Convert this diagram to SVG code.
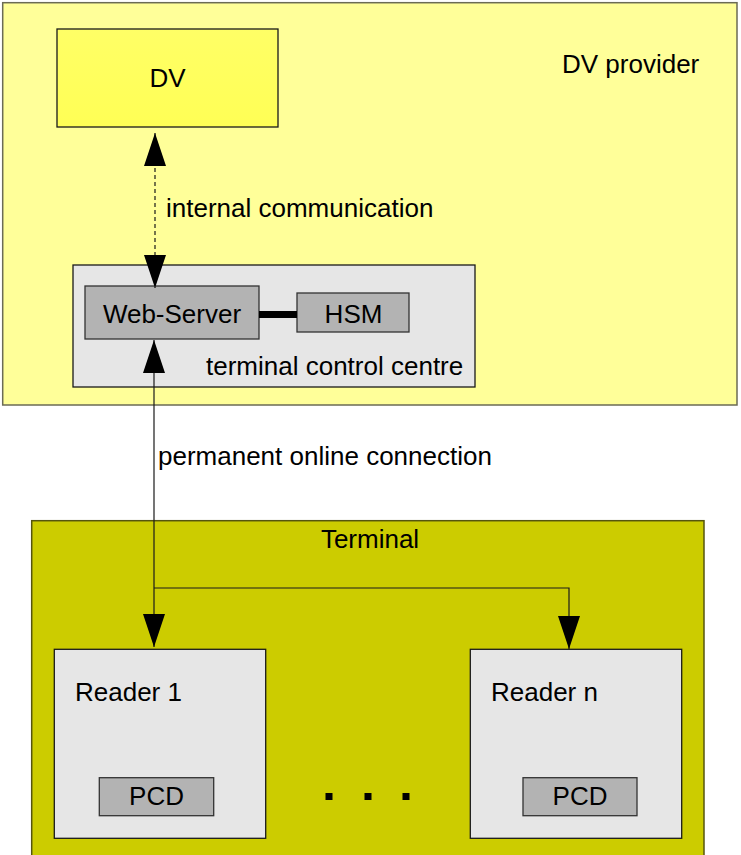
<svg xmlns="http://www.w3.org/2000/svg" width="741" height="855" viewBox="0 0 741 855">
  <style>
    text { font-family: "Liberation Sans", Arial, sans-serif; font-size: 26px; fill: #000; }
    .box { stroke: #1a1a1a; stroke-width: 1.3; }
    .light { fill: #e6e6e6; }
    .dark { fill: #b3b3b3; stroke: #333; stroke-width: 1.3; }
    .wire { fill: none; stroke: #1a1a1a; stroke-width: 1.2; }
  </style>
  <defs>
    <marker id="arrow" markerUnits="userSpaceOnUse" markerWidth="34" markerHeight="24" refX="33" refY="11" orient="auto-start-reverse" viewBox="0 0 34 24">
      <path d="M0,0 L33,11 L0,22 z" fill="#000"/>
    </marker>
    <linearGradient id="dvfill" x1="0" y1="0" x2="0" y2="1">
      <stop offset="0" stop-color="#ffff66"/>
      <stop offset="1" stop-color="#ffff55"/>
    </linearGradient>
  </defs>

  <rect width="741" height="855" fill="#ffffff"/>

  <g id="dv-provider">
    <rect x="2.7" y="2.7" width="734.3" height="402.3" fill="#ffff99" stroke="#6b6b55" stroke-width="1.5"/>
    <text x="562" y="73">DV provider</text>
  </g>

  <g id="dv">
    <rect class="box" x="57" y="29" width="221" height="98" fill="url(#dvfill)"/>
    <text x="167.5" y="87" text-anchor="middle">DV</text>
  </g>

  <g id="terminal-control-centre">
    <rect class="box light" x="73" y="265" width="402" height="122"/>
    <text x="206" y="375">terminal control centre</text>
  </g>

  <g id="web-server">
    <rect class="dark" x="85" y="286" width="174" height="53"/>
    <text x="172" y="323" text-anchor="middle">Web-Server</text>
  </g>

  <g id="hsm">
    <rect class="dark" x="297" y="293" width="112" height="39"/>
    <text x="353.5" y="323" text-anchor="middle">HSM</text>
  </g>

  <g id="terminal">
    <rect x="31.7" y="520.7" width="672.3" height="345" fill="#cccc00" stroke="#55550f" stroke-width="1.5"/>
    <text x="370" y="548" text-anchor="middle">Terminal</text>
  </g>

  <g id="reader-1">
    <rect class="box light" x="54.3" y="649.3" width="211.4" height="189"/>
    <text x="75" y="701">Reader 1</text>
  </g>

  <g id="pcd-1">
    <rect class="dark" x="99.3" y="777.7" width="114.4" height="38"/>
    <text x="156.5" y="805" text-anchor="middle">PCD</text>
  </g>

  <g id="reader-n">
    <rect class="box light" x="470.3" y="649.3" width="211.4" height="189"/>
    <text x="491" y="701">Reader n</text>
  </g>

  <g id="pcd-n">
    <rect class="dark" x="523" y="777.7" width="114" height="38"/>
    <text x="580" y="805" text-anchor="middle">PCD</text>
  </g>

  <g id="ellipsis" fill="#000">
    <rect x="325.5" y="793" width="7" height="7"/>
    <rect x="364.5" y="793" width="7" height="7"/>
    <rect x="402.5" y="793" width="7" height="7"/>
  </g>

  <g id="connectors">
    <path class="wire" d="M155,133 V288" stroke-dasharray="4,3" stroke="#333" marker-start="url(#arrow)" marker-end="url(#arrow)"/>
    <text x="166" y="217">internal communication</text>
    <path d="M259,314.5 H297" stroke="#000" stroke-width="7" fill="none"/>
    <path class="wire" d="M154,340 V647" marker-start="url(#arrow)" marker-end="url(#arrow)"/>
    <path class="wire" d="M154,588 H569 V649" marker-end="url(#arrow)"/>
    <text x="158" y="465">permanent online connection</text>
  </g>
</svg>
